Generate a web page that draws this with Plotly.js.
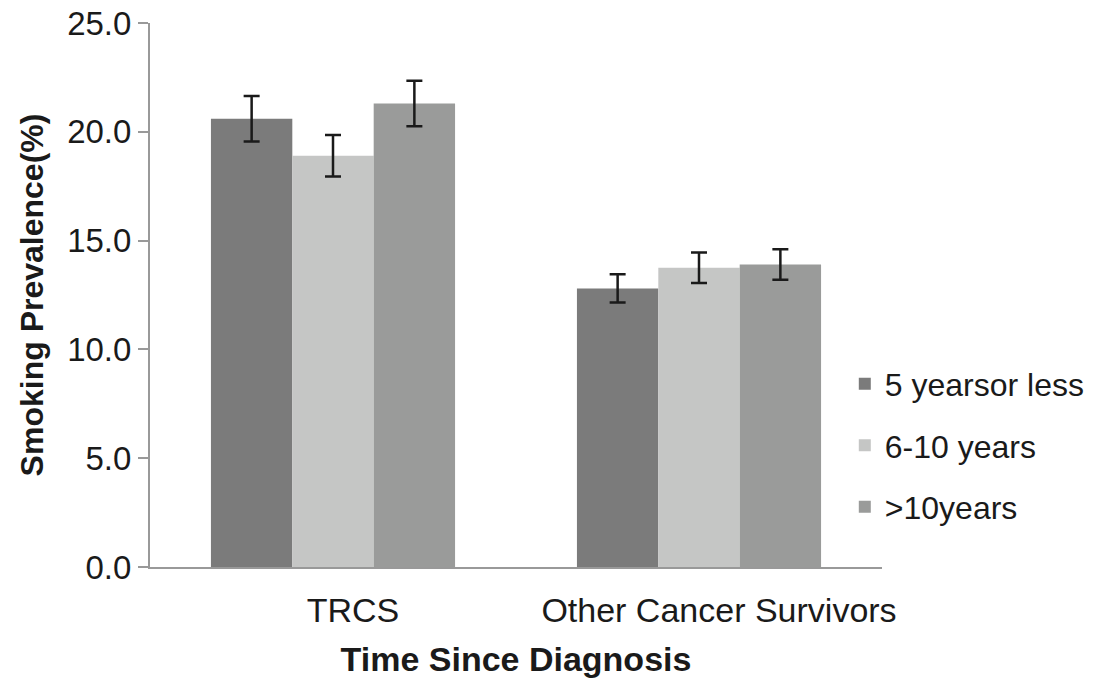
<!DOCTYPE html>
<html>
<head>
<meta charset="utf-8">
<script src="https://cdn.plot.ly/plotly-3.0.1.min.js"></script>
<style>html,body{margin:0;padding:0;background:#fff;}#chart{width:1100px;height:681px;}</style>
</head>
<body>
<div id="chart"></div>
<script>
const categories = ["TRCS", "Other Cancer Survivors"];
const seriesNames = ["5 yearsor less", "6-10 years", ">10years"];
const val5orLess = [20.6, 12.8];
const err5orLess = [1.05, 0.65];
const val6to10 = [18.9, 13.75];
const err6to10 = [0.95, 0.7];
const valOver10 = [21.3, 13.9];
const errOver10 = [1.05, 0.7];
const colors = ["#7b7b7b", "#c5c6c5", "#9a9b9a"];

const values = [val5orLess, val6to10, valOver10];
const errors = [err5orLess, err6to10, errOver10];

const traces = seriesNames.map((name, i) => ({
  type: "bar",
  name: name,
  x: categories,
  y: values[i],
  legendgroup: "g" + i,
  marker: {color: colors[i], line: {width: 0}},
  error_y: {type: "data", array: errors[i], visible: true, color: "#1a1a1a", thickness: 2.5, width: 8}
}));

const font = "'Liberation Sans', Arial, Helvetica, sans-serif";
const layout = {
  width: 1100, height: 681,
  margin: {l: 150, r: 218, t: 23, b: 114, autoexpand: false},
  paper_bgcolor: "#fff", plot_bgcolor: "#fff",
  barmode: "group", bargap: 0.333, bargroupgap: 0,
  font: {family: font, color: "#1a1a1a", size: 32},
  xaxis: {
    type: "category", range: [-0.5, 1.5],
    showline: true, linecolor: "#999", linewidth: 2,
    ticks: "", showgrid: false, zeroline: false,
    tickfont: {size: 34, family: font, color: "#1a1a1a"},
    ticklabelstandoff: 12, ticklabelshift: 20,
    title: {text: "<b>Time Since Diagnosis</b>", font: {size: 34, family: font, color: "#1a1a1a"}, standoff: 19}
  },
  yaxis: {
    range: [0, 25], tickvals: [0, 5, 10, 15, 20, 25],
    ticktext: ["0.0", "5.0", "10.0", "15.0", "20.0", "25.0"],
    showline: true, linecolor: "#999", linewidth: 2,
    ticks: "outside", ticklen: 10, tickcolor: "#999", tickwidth: 2,
    showgrid: false, zeroline: false,
    tickfont: {size: 33, family: font, color: "#1a1a1a"},
    title: {text: "<b>Smoking Prevalence(%)</b>", font: {size: 32, family: font, color: "#1a1a1a"}, standoff: 14}
  },
  legend: {
    xref: "container", yref: "container",
    x: 0.768, xanchor: "left", y: 0.346, yanchor: "middle",
    font: {size: 32, family: font, color: "#1a1a1a"},
    traceorder: "grouped", tracegroupgap: 17,
    itemwidth: 30, bgcolor: "rgba(0,0,0,0)"
  },
  showlegend: true
};

Plotly.newPlot("chart", traces, layout, {displayModeBar: false, staticPlot: true});
</script>
</body>
</html>
